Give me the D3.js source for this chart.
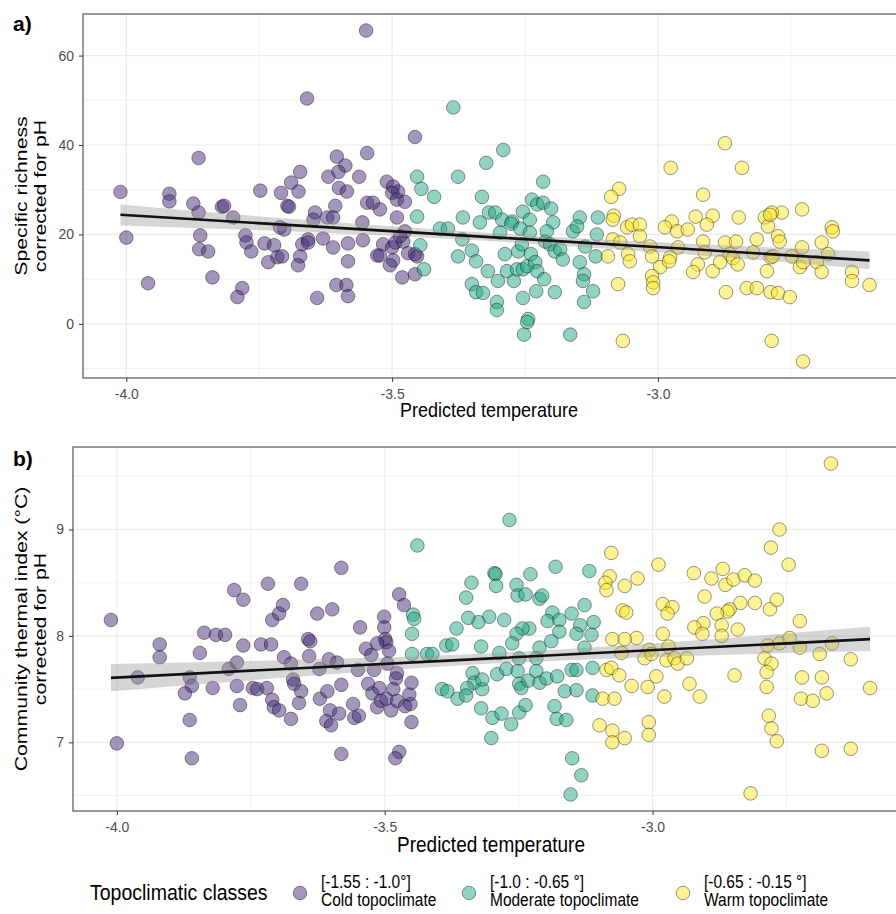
<!DOCTYPE html>
<html lang="en">
<head>
<meta charset="utf-8">
<title>Topoclimate - richness and thermal index</title>
<script src="https://cdn.jsdelivr.net/npm/d3@7"></script>
<style>
body { margin: 0; background: #fff; }
svg { display: block; font-family: "Liberation Sans", Arial, sans-serif; }
.grid line { stroke: #ebebeb; }
.grid line.minor { stroke-width: 0.7; }
.grid line.major { stroke-width: 1.2; }
.axis text { fill: #4d4d4d; font-size: 14px; font-family: "Liberation Sans", Arial, sans-serif; }
.axis line { stroke: #333; }
.axis path { display: none; }
.pt { stroke: #000; stroke-opacity: .4; stroke-width: 1; fill-opacity: .5; }
.title { fill: #000; }
</style>
</head>
<body>
<svg id="chart" width="896" height="914"></svg>
<script>

// classes and their colours (viridis)
var classNames = ["Cold topoclimate", "Moderate topoclimate", "Warm topoclimate"];
var classRanges = ["[-1.55 : -1.0°]", "[-1.0 : -0.65 °]", "[-0.65 : -0.15 °]"];
var classColors = ["#472d7b", "#22a884", "#fde725"];

// panel a) specific richness corrected for pH, [predicted temperature, richness]
var richCold = [
  [-3.549,65.6],[-3.660,50.4],[-3.457,41.8],[-3.864,37.1],[-3.547,38.2],[-3.604,37.4],[-3.588,35.4],[-3.673,34.0],
  [-3.562,32.9],[-3.620,32.9],[-3.601,34.0],[-3.690,31.6],[-4.011,29.5],[-3.919,29.1],[-3.919,27.4],[-3.748,29.8],
  [-3.709,29.3],[-3.676,29.6],[-3.600,30.4],[-3.585,29.6],[-3.510,31.8],[-3.498,30.7],[-3.489,29.6],[-3.500,29.3],
  [-3.491,27.8],[-3.476,27.3],[-3.547,27.1],[-3.536,27.1],[-3.523,25.6],[-3.607,26.4],[-3.874,26.9],[-3.864,24.9],
  [-3.820,26.2],[-3.816,26.4],[-3.799,23.8],[-3.697,26.4],[-3.694,26.2],[-3.645,24.9],[-3.491,23.8],[-3.556,22.7],
  [-4.000,19.3],[-3.959,9.1],[-3.861,19.8],[-3.863,16.7],[-3.846,16.2],[-3.838,10.4],[-3.782,8.0],[-3.791,6.0],
  [-3.776,19.8],[-3.774,18.2],[-3.765,16.2],[-3.740,18.0],[-3.722,17.6],[-3.716,14.9],[-3.707,15.1],[-3.733,13.8],
  [-3.703,21.1],[-3.711,21.6],[-3.673,15.1],[-3.677,13.1],[-3.669,17.8],[-3.658,18.9],[-3.658,18.2],[-3.648,23.3],
  [-3.622,23.8],[-3.611,23.8],[-3.630,19.1],[-3.611,17.1],[-3.641,5.8],[-3.605,8.7],[-3.586,8.7],[-3.583,6.2],
  [-3.583,14.0],[-3.583,18.0],[-3.555,18.7],[-3.528,15.3],[-3.523,15.3],[-3.517,17.8],[-3.500,17.1],[-3.494,18.2],
  [-3.498,14.2],[-3.504,13.1],[-3.481,10.4],[-3.457,11.1],[-3.479,18.4],[-3.470,15.8],[-3.453,15.1],[-3.457,15.6],
  [-3.476,20.7],[-3.485,19.6]
];
var richModerate = [
  [-3.453,32.9],[-3.445,30.2],[-3.421,28.4],[-3.453,24.0],[-3.385,48.4],[-3.447,17.6],[-3.440,12.2],[-3.410,21.3],
  [-3.395,21.3],[-3.291,38.9],[-3.323,36.0],[-3.376,32.9],[-3.216,31.8],[-3.331,28.4],[-3.367,23.8],[-3.318,24.9],
  [-3.306,24.9],[-3.293,23.3],[-3.254,25.1],[-3.237,27.8],[-3.227,26.7],[-3.216,27.1],[-3.201,25.8],[-3.241,23.3],
  [-3.274,22.9],[-3.335,22.7],[-3.197,22.7],[-3.147,23.8],[-3.113,23.8],[-3.368,18.9],[-3.376,15.1],[-3.350,16.4],
  [-3.342,14.0],[-3.320,11.8],[-3.301,9.6],[-3.350,8.9],[-3.342,7.1],[-3.329,6.9],[-3.303,4.9],[-3.303,3.1],
  [-3.288,15.6],[-3.284,11.8],[-3.271,9.6],[-3.263,16.2],[-3.265,12.2],[-3.254,12.2],[-3.246,12.9],[-3.256,17.8],
  [-3.297,20.4],[-3.276,22.4],[-3.259,21.3],[-3.241,20.4],[-3.239,15.6],[-3.231,13.8],[-3.227,11.8],[-3.214,10.0],
  [-3.254,5.8],[-3.229,7.3],[-3.244,1.1],[-3.246,0.4],[-3.252,-2.4],[-3.165,-2.4],[-3.194,7.1],[-3.212,18.4],
  [-3.203,17.8],[-3.194,16.2],[-3.184,16.7],[-3.179,14.4],[-3.209,20.7],[-3.160,20.7],[-3.152,21.8],[-3.137,17.3],
  [-3.147,13.8],[-3.139,11.1],[-3.141,9.6],[-3.122,7.3],[-3.139,4.9],[-3.115,20.0],[-3.117,15.1]
];
var richWarm = [
  [-2.874,40.4],[-2.976,34.9],[-2.842,34.9],[-3.073,30.2],[-3.088,28.4],[-2.915,28.9],[-3.083,24.2],[-2.729,25.6],
  [-2.767,24.9],[-2.786,24.9],[-2.799,23.8],[-2.848,23.8],[-2.897,24.2],[-2.929,24.0],[-2.974,22.9],[-3.085,23.3],
  [-3.094,15.1],[-3.085,18.9],[-3.071,18.2],[-3.056,15.6],[-3.053,14.0],[-3.058,21.6],[-3.049,22.2],[-3.034,22.2],
  [-3.034,19.6],[-3.075,8.9],[-3.066,-3.8],[-3.015,17.3],[-3.011,15.1],[-2.996,12.7],[-3.011,10.7],[-3.009,9.3],
  [-3.009,8.0],[-2.987,21.6],[-2.977,14.9],[-2.979,14.0],[-2.964,20.7],[-2.962,17.1],[-2.944,21.1],[-2.908,22.2],
  [-2.915,18.4],[-2.912,16.0],[-2.925,13.3],[-2.934,11.6],[-2.897,11.8],[-2.883,13.8],[-2.874,18.2],[-2.865,15.6],
  [-2.859,14.7],[-2.853,18.4],[-2.850,13.3],[-2.872,7.1],[-2.833,8.0],[-2.814,8.0],[-2.814,18.9],[-2.821,16.0],
  [-2.788,7.1],[-2.774,6.9],[-2.752,6.0],[-2.795,11.8],[-2.788,14.9],[-2.784,15.1],[-2.774,19.6],[-2.771,18.4],
  [-2.793,21.8],[-2.789,24.4],[-2.748,15.1],[-2.729,17.1],[-2.733,12.7],[-2.727,13.8],[-2.701,13.8],[-2.692,18.2],
  [-2.692,11.6],[-2.680,15.6],[-2.673,21.6],[-2.671,20.7],[-2.635,11.6],[-2.635,9.6],[-2.602,8.7],[-2.786,-3.8],
  [-2.727,-8.4]
];
// linear fit with 95% band, read at a few temperatures
var richFit = [
  {x:-4.011, fit:24.4, lo:22.0, hi:26.7},
  {x:-3.650, fit:21.8, lo:20.5, hi:23.1},
  {x:-3.300, fit:19.3, lo:18.4, hi:20.2},
  {x:-2.950, fit:16.8, lo:15.6, hi:18.0},
  {x:-2.602, fit:14.2, lo:12.2, hi:16.2}
];

// panel b) community thermal index corrected for pH
var ctiCold = [
  [-4.011,8.15],[-3.781,8.43],[-3.764,8.34],[-3.718,8.49],[-3.656,8.49],[-3.581,8.64],[-3.710,8.15],[-3.697,8.21],
  [-3.690,8.29],[-3.626,8.21],[-3.598,8.25],[-3.546,8.08],[-3.473,8.39],[-3.464,8.29],[-3.501,8.18],[-3.501,8.08],
  [-4.000,6.99],[-3.961,7.61],[-3.920,7.92],[-3.920,7.80],[-3.864,7.61],[-3.860,7.53],[-3.873,7.46],[-3.864,7.21],
  [-3.860,6.85],[-3.845,7.84],[-3.837,8.03],[-3.815,8.01],[-3.798,8.01],[-3.821,7.51],[-3.791,7.69],[-3.776,7.75],
  [-3.764,7.91],[-3.776,7.53],[-3.770,7.35],[-3.746,7.51],[-3.738,7.50],[-3.720,7.51],[-3.731,7.92],[-3.712,7.92],
  [-3.710,7.40],[-3.707,7.33],[-3.697,7.30],[-3.688,7.80],[-3.675,7.74],[-3.671,7.59],[-3.669,7.55],[-3.656,7.48],
  [-3.660,7.37],[-3.675,7.22],[-3.643,7.97],[-3.639,7.95],[-3.641,7.81],[-3.622,7.69],[-3.621,7.41],[-3.607,7.48],
  [-3.604,7.78],[-3.589,7.75],[-3.581,7.54],[-3.602,7.30],[-3.609,7.20],[-3.600,7.16],[-3.585,7.27],[-3.581,6.89],
  [-3.559,7.36],[-3.557,7.23],[-3.548,7.25],[-3.550,7.68],[-3.535,7.88],[-3.525,7.82],[-3.520,7.68],[-3.531,7.55],
  [-3.523,7.46],[-3.510,7.51],[-3.514,7.33],[-3.507,7.39],[-3.497,7.41],[-3.499,7.97],[-3.497,7.94],[-3.514,7.93],
  [-3.492,7.86],[-3.495,7.74],[-3.488,7.30],[-3.477,7.39],[-3.477,7.65],[-3.479,7.60],[-3.484,7.50],[-3.462,7.34],
  [-3.452,7.36],[-3.454,7.45],[-3.450,7.56],[-3.450,7.19],[-3.473,6.91],[-3.480,6.85]
];
var ctiModerate = [
  [-3.439,8.85],[-3.447,8.20],[-3.445,8.16],[-3.449,8.02],[-3.449,7.83],[-3.421,7.83],[-3.411,7.83],[-3.385,7.91],
  [-3.393,7.50],[-3.383,7.48],[-3.267,9.09],[-3.295,8.59],[-3.293,8.58],[-3.292,8.47],[-3.338,8.50],[-3.348,8.36],
  [-3.254,8.48],[-3.252,8.38],[-3.237,8.39],[-3.228,8.58],[-3.211,8.35],[-3.206,8.38],[-3.181,8.65],[-3.118,8.61],
  [-3.127,8.29],[-3.151,8.21],[-3.187,8.22],[-3.196,8.14],[-3.174,8.15],[-3.110,8.13],[-3.135,8.10],[-3.142,8.02],
  [-3.114,8.01],[-3.174,8.04],[-3.230,8.07],[-3.243,8.07],[-3.277,8.15],[-3.305,8.18],[-3.325,8.13],[-3.344,8.17],
  [-3.366,8.07],[-3.254,8.02],[-3.374,7.92],[-3.320,7.90],[-3.286,7.84],[-3.262,7.93],[-3.211,7.89],[-3.189,7.95],
  [-3.127,7.89],[-3.336,7.65],[-3.333,7.56],[-3.318,7.50],[-3.318,7.59],[-3.346,7.51],[-3.364,7.41],[-3.348,7.44],
  [-3.290,7.64],[-3.273,7.69],[-3.252,7.67],[-3.249,7.55],[-3.245,7.51],[-3.232,7.58],[-3.217,7.67],[-3.211,7.56],
  [-3.198,7.60],[-3.217,7.79],[-3.249,7.79],[-3.320,7.32],[-3.299,7.23],[-3.282,7.27],[-3.264,7.17],[-3.249,7.28],
  [-3.237,7.35],[-3.301,7.04],[-3.183,7.34],[-3.179,7.22],[-3.161,7.21],[-3.178,7.62],[-3.164,7.48],[-3.142,7.49],
  [-3.151,7.68],[-3.142,7.68],[-3.112,7.70],[-3.112,7.44],[-3.150,6.85],[-3.133,6.69],[-3.153,6.51]
];
var ctiWarm = [
  [-2.667,9.62],[-2.763,9.00],[-2.779,8.83],[-2.746,8.67],[-3.077,8.78],[-3.080,8.56],[-3.088,8.50],[-3.086,8.43],
  [-3.052,8.47],[-3.028,8.54],[-2.989,8.67],[-2.923,8.59],[-2.890,8.54],[-2.869,8.63],[-2.864,8.48],[-2.849,8.53],
  [-2.828,8.57],[-2.809,8.52],[-2.903,8.37],[-2.809,8.31],[-2.781,8.25],[-2.768,8.34],[-2.836,8.31],[-2.856,8.25],
  [-2.860,8.23],[-2.880,8.21],[-3.056,8.24],[-3.049,8.22],[-2.981,8.30],[-2.963,8.27],[-2.972,8.21],[-2.981,8.02],
  [-2.905,8.12],[-2.922,8.08],[-2.871,8.10],[-2.841,8.06],[-2.725,8.14],[-3.030,7.98],[-3.052,7.97],[-3.075,7.97],
  [-3.086,7.68],[-3.077,7.70],[-3.062,7.63],[-3.093,7.41],[-3.071,7.41],[-3.039,7.53],[-3.009,7.52],[-2.993,7.62],
  [-3.099,7.16],[-3.075,7.11],[-3.075,7.00],[-3.052,7.04],[-3.007,7.19],[-3.007,7.07],[-2.978,7.43],[-3.058,7.84],
  [-3.006,7.87],[-3.015,7.79],[-3.002,7.83],[-2.970,7.90],[-2.974,7.77],[-2.959,7.79],[-2.953,7.74],[-2.936,7.79],
  [-2.931,7.55],[-2.912,7.43],[-2.907,8.02],[-2.871,8.00],[-2.847,7.63],[-2.791,7.79],[-2.778,7.74],[-2.785,7.91],
  [-2.763,7.93],[-2.744,7.98],[-2.725,7.89],[-2.787,7.66],[-2.787,7.52],[-2.783,7.25],[-2.778,7.13],[-2.768,7.01],
  [-2.817,6.52],[-2.721,7.61],[-2.723,7.41],[-2.701,7.39],[-2.684,7.61],[-2.688,7.83],[-2.675,7.46],[-2.665,7.93],
  [-2.630,7.78],[-2.594,7.51],[-2.684,6.92],[-2.630,6.94]
];
var ctiFit = [
  {x:-4.011, fit:7.606, lo:7.480, hi:7.735},
  {x:-3.650, fit:7.699, lo:7.620, hi:7.778},
  {x:-3.300, fit:7.789, lo:7.740, hi:7.838},
  {x:-2.950, fit:7.879, lo:7.810, hi:7.948},
  {x:-2.594, fit:7.970, lo:7.858, hi:8.085}
];

var xTicks = [-4.0, -3.5, -3.0], xMinor = [-3.75, -3.25, -2.75];
var richTicks = [0, 20, 40, 60], richMinor = [-10, 10, 30, 50];
var ctiTicks = [7, 8, 9], ctiMinor = [6.5, 7.5, 8.5, 9.5];

var svg = d3.select("#chart");
svg.append("rect").attr("width", 896).attr("height", 914).attr("fill", "#fff");

// the source figure is stretched vertically, so its titles are drawn a bit taller than wide
function tallText(parent, x, y, size, stretch, rotate) {
    return parent.append("text")
        .attr("transform", "translate(" + x + "," + y + ") scale(1," + stretch + ")" + (rotate ? " rotate(-90)" : ""))
        .style("font-size", size + "px");
}

function drawPanel(p) {
    var all = d3.merge(p.series);
    var xe = d3.extent(all, d => d[0]), ye = d3.extent(all, d => d[1]);
    var xp = (xe[1] - xe[0]) * 0.05, yp = (ye[1] - ye[0]) * 0.05;
    var x = d3.scaleLinear().domain([xe[0] - xp, xe[1] + xp]).range([p.left, p.right]);
    var y = d3.scaleLinear().domain([ye[0] - yp, ye[1] + yp]).range([p.bottom, p.top]);

    var g = svg.append("g");
    var grid = g.append("g").attr("class", "grid");
    grid.selectAll("line.xmin").data(xMinor).enter().append("line").attr("class", "minor")
        .attr("x1", d => x(d)).attr("x2", d => x(d)).attr("y1", p.top).attr("y2", p.bottom);
    grid.selectAll("line.ymin").data(p.yMinor).enter().append("line").attr("class", "minor")
        .attr("y1", d => y(d)).attr("y2", d => y(d)).attr("x1", p.left).attr("x2", p.right);
    grid.selectAll("line.xmaj").data(xTicks).enter().append("line").attr("class", "major")
        .attr("x1", d => x(d)).attr("x2", d => x(d)).attr("y1", p.top).attr("y2", p.bottom);
    grid.selectAll("line.ymaj").data(p.yTicks).enter().append("line").attr("class", "major")
        .attr("y1", d => y(d)).attr("y2", d => y(d)).attr("x1", p.left).attr("x2", p.right);

    p.series.forEach(function(s, i) {
        g.append("g").selectAll("circle").data(s).enter().append("circle")
            .attr("class", "pt")
            .attr("cx", d => x(d[0])).attr("cy", d => y(d[1])).attr("r", 6.8)
            .attr("fill", classColors[i]);
    });

    g.append("path").datum(p.fit)
        .attr("fill", "#999").attr("fill-opacity", 0.4)
        .attr("d", d3.area().curve(d3.curveMonotoneX).x(d => x(d.x)).y0(d => y(d.lo)).y1(d => y(d.hi)));
    g.append("path").datum(p.fit)
        .attr("fill", "none").attr("stroke", "#111").attr("stroke-width", 2.6)
        .attr("d", d3.line().x(d => x(d.x)).y(d => y(d.fit)));

    g.append("rect").attr("x", p.left).attr("y", p.top)
        .attr("width", p.right - p.left).attr("height", p.bottom - p.top)
        .attr("fill", "none").attr("stroke", "#6e6e6e").attr("stroke-width", 1.4);

    g.append("g").attr("class", "axis").attr("transform", "translate(0," + p.bottom + ")")
        .call(d3.axisBottom(x).tickValues(xTicks).tickFormat(d3.format(".1f")).tickSize(4).tickPadding(7));
    g.append("g").attr("class", "axis").attr("transform", "translate(" + p.left + ",0)")
        .call(d3.axisLeft(y).tickValues(p.yTicks).tickFormat(d3.format("d")).tickSize(4).tickPadding(5));
    g.selectAll(".axis text").text(function() { return this.textContent.replace("\u2212", "-"); });

    tallText(g, p.xTitleX, p.xTitleY, p.xTitleSize, 1.15)
        .attr("class", "title").attr("text-anchor", "middle").text("Predicted temperature");

    var yt = tallText(g, p.yTitleX, (p.top + p.bottom) / 2, 17, 1.25, true)
        .attr("class", "title").attr("text-anchor", "middle");
    yt.append("tspan").attr("x", 0).attr("y", 0).text(p.yTitle[0]);
    yt.append("tspan").attr("x", 0).attr("y", 19).text(p.yTitle[1]);

    g.append("text").attr("x", 13).attr("y", p.tagY)
        .style("font-size", "21px").style("font-weight", "bold").text(p.tag);
}

drawPanel({
    series: [richCold, richModerate, richWarm], fit: richFit,
    left: 83, right: 907, top: 14, bottom: 378,
    yTicks: richTicks, yMinor: richMinor,
    xTitleX: 489, xTitleY: 417, xTitleSize: 18,
    yTitleX: 27, yTitle: ["Specific richness", "corrected for pH"],
    tag: "a)", tagY: 31
});
drawPanel({
    series: [ctiCold, ctiModerate, ctiWarm], fit: ctiFit,
    left: 73, right: 908, top: 447, bottom: 811,
    yTicks: ctiTicks, yMinor: ctiMinor,
    xTitleX: 491, xTitleY: 852, xTitleSize: 19,
    yTitleX: 27, yTitle: ["Community thermal index (°C)", "corrected for pH"],
    tag: "b)", tagY: 466
});

// legend
var legend = svg.append("g");
tallText(legend, 90, 900, 19.5, 1.15).text("Topoclimatic classes");
var keyX = [300, 469, 683];
classNames.forEach(function(name, i) {
    legend.append("circle").attr("class", "pt").attr("cx", keyX[i]).attr("cy", 893).attr("r", 6.8)
        .attr("fill", classColors[i]);
    var t = tallText(legend, keyX[i] + 21, 888, 15.5, 1.15);
    t.append("tspan").attr("x", 0).attr("y", 0).text(classRanges[i]);
    t.append("tspan").attr("x", 0).attr("y", 16).text(name);
});

</script>
</body>
</html>
